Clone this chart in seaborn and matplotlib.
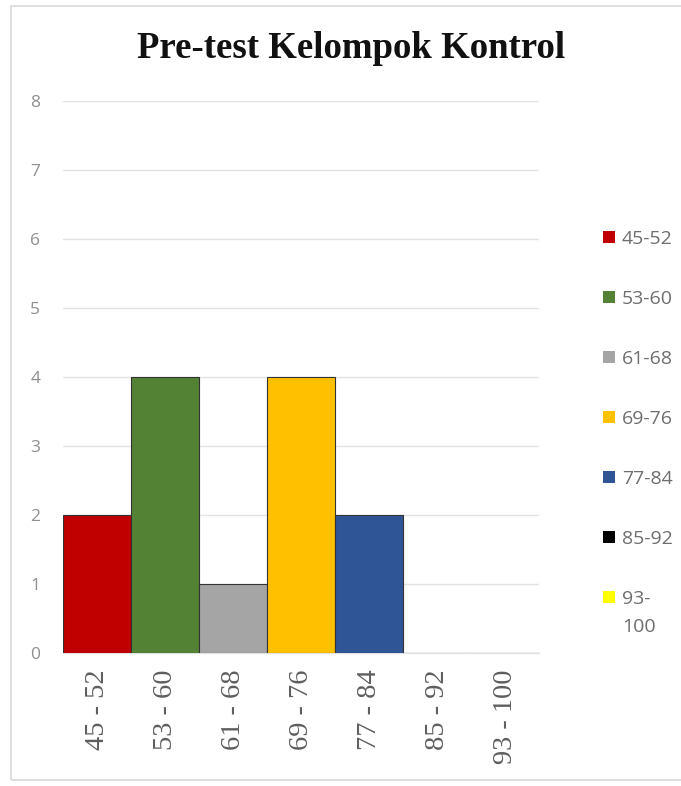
import matplotlib
matplotlib.use("Agg")
import matplotlib.pyplot as plt
from matplotlib.patches import Rectangle, Patch
import seaborn as sns
import pandas as pd

# Frequency of pre-test scores per class interval (control group)
intervals = ["45 - 52", "53 - 60", "61 - 68", "69 - 76", "77 - 84", "85 - 92", "93 - 100"]
legend_labels = ["45-52", "53-60", "61-68", "69-76", "77-84", "85-92", "93-100"]
counts = [2, 4, 1, 4, 2, 0, 0]
colors = ["#C00000", "#548235", "#A5A5A5", "#FFC000", "#2F5597", "#000000", "#FFFF00"]
yticks = [0, 1, 2, 3, 4, 5, 6, 7, 8]

df = pd.DataFrame({"interval": intervals, "count": counts})

sns.set_theme(style="white")
fig = plt.figure(figsize=(6.81, 7.86), dpi=100)
fig.patch.set_facecolor("white")

W, H = 681, 786
ax = fig.add_axes([63 / W, 1 - 653 / H, (539 - 63) / W, (653 - 101) / H])

sns.barplot(data=df, x="interval", y="count", hue="interval",
            palette=colors, saturation=1, dodge=False, width=1.0, legend=False,
            edgecolor="#333333", linewidth=0.8, ax=ax, zorder=3)

ax.set_ylim(0, 8)
ax.set_xlim(-0.5, len(intervals) - 0.5)
ax.set_yticks(yticks)
ax.set_yticklabels([str(t) for t in yticks], fontsize=12.5, color="#8f8f8f",
                   family="Open Sans")
ax.set_xticks(range(len(intervals)))
ax.set_xticklabels(intervals, rotation=90, fontsize=20.5, color="#5e5e5e",
                   family="Liberation Serif", va="top")
ax.tick_params(axis="y", length=0, pad=20)
ax.tick_params(axis="x", length=0, pad=12)
for lbl in ax.get_yticklabels():
    lbl.set_horizontalalignment("center")
ax.set_xlabel("")
ax.set_ylabel("")
ax.yaxis.grid(True, color="#e3e3e3", linewidth=1.0, zorder=0)
ax.set_axisbelow(True)
for side in ["top", "right", "left"]:
    ax.spines[side].set_visible(False)
ax.spines["bottom"].set_color("#e3e3e3")
ax.spines["bottom"].set_linewidth(1.0)
ax.set_facecolor("white")

fig.text(351 / W, 1 - 48 / H, "Pre-test Kelompok Kontrol", ha="center", va="center",
         fontsize=26.5, fontweight="bold", family="Liberation Serif", color="#111111")

# Legend on the right; long labels wrap after the hyphen
wrapped = []
for lab in legend_labels:
    head, tail = lab.split("-")
    wrapped.append((head + "-", tail) if len(tail) > 2 else (lab, None))

handles = [Patch(facecolor=c, edgecolor="none") for c in colors]
leg = fig.legend(handles, [w[0] for w in wrapped], loc="upper left",
                 bbox_to_anchor=(603 / W, 1 - 230 / H), frameon=False,
                 fontsize=14, labelspacing=2.16, handlelength=0.62, handleheight=0.62,
                 handletextpad=0.36, borderpad=0, borderaxespad=0)
for t in leg.get_texts():
    t.set_color("#6e6e6e")
    t.set_family("Open Sans")

fig.canvas.draw()
renderer = fig.canvas.get_renderer()
for t, (_, tail) in zip(leg.get_texts(), wrapped):
    if tail is None:
        continue
    bb = t.get_window_extent(renderer)
    fig.text(bb.x0 / W, (bb.y0 - 28) / H, tail, ha="left", va="bottom",
             fontsize=14, color="#6e6e6e", family="Open Sans")

# Chart frame
fig.patches.append(Rectangle((11 / W, 1 - 780 / H), (W + 5 - 11) / W, (780 - 6) / H,
                             transform=fig.transFigure, fill=False,
                             edgecolor="#d9d9d9", linewidth=1.2))

fig.savefig("out.png", dpi=100)
